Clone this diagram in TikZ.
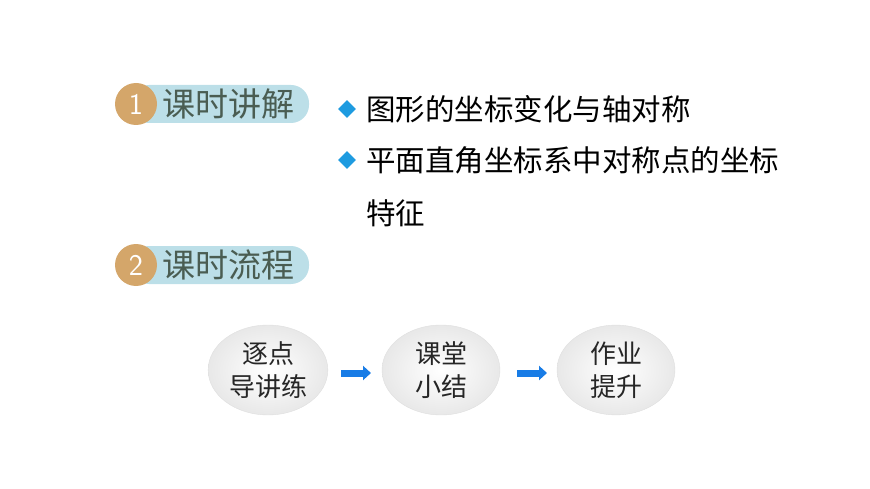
\documentclass[tikz,border=0pt]{standalone}
\usepackage{fontspec}
\newfontfamily\cjk{Noto Sans CJK SC}
\usetikzlibrary{shapes.geometric,arrows.meta}
\definecolor{tan}{HTML}{D4A66A}
\definecolor{pill}{HTML}{BCDFE8}
\definecolor{hdtext}{HTML}{4A5D52}
\definecolor{dia}{HTML}{1E9BE0}
\tikzset{
  pillbox/.style={fill=pill,rounded corners=18pt,minimum width=178pt,minimum height=38pt,inner sep=0pt},
  numdot/.style={circle,fill=tan,minimum size=42pt,inner sep=0pt,text=white,font=\sffamily\fontsize{30}{30}\selectfont},
  hdtxt/.style={anchor=west,text=hdtext,font=\cjk\fontsize{33}{33}\selectfont,inner sep=0pt},
  bul/.style={diamond,fill=dia,minimum size=18pt,inner sep=0pt},
  btxt/.style={anchor=west,font=\cjk\fontsize{29.5}{30}\selectfont,inner sep=0pt},
  oval/.style={ellipse,minimum width=118pt,minimum height=86pt,draw=gray!25,inner color=white,outer color=gray!18,align=center,font=\cjk\fontsize{26}{33}\selectfont,text=black!85},
  barrow/.style={-{Triangle[length=8pt,width=14pt]},line width=7pt,draw=dia!80!blue}
}
\begin{document}
\begin{tikzpicture}[x=1pt,y=-1pt]
\useasboundingbox (0,0) rectangle (870,489);
\node[pillbox] (p1) at (220,104) {};
\node[numdot] (n1) at (136,104) {1};
\node[hdtxt] (h1) at (162,104) {课时讲解};
\node[pillbox] (p2) at (220,265) {};
\node[numdot] (n2) at (136,265) {2};
\node[hdtxt] (h2) at (162,265) {课时流程};
\node[bul] (d1) at (347,109) {};
\node[btxt] (t1) at (366,109) {图形的坐标变化与轴对称};
\node[bul] (d2) at (347,160) {};
\node[btxt] (t2) at (366,160) {平面直角坐标系中对称点的坐标};
\node[btxt] (t3) at (366,213) {特征};
\node[oval] (e1) at (268,370) {逐点\\导讲练};
\node[oval] (e2) at (441,370) {课堂\\小结};
\node[oval] (e3) at (616,370) {作业\\提升};
\coordinate (a1s) at (341,373); \coordinate (a1e) at (371,373);
\coordinate (a2s) at (517,373); \coordinate (a2e) at (547,373);
\draw[barrow] (a1s) -- (a1e);
\draw[barrow] (a2s) -- (a2e);
\end{tikzpicture}
\end{document}
